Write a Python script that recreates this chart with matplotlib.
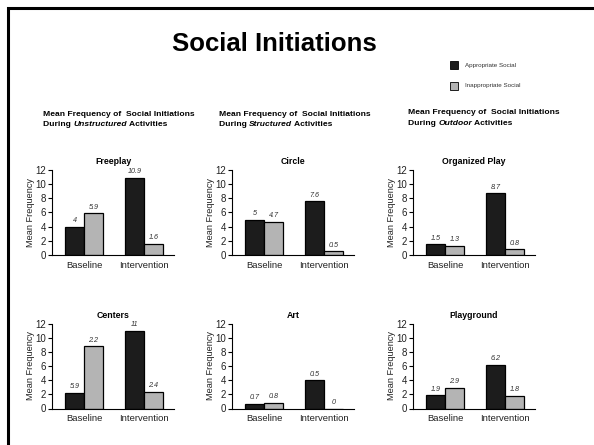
import matplotlib
matplotlib.use("Agg")
import matplotlib.pyplot as plt
from matplotlib.lines import Line2D
from matplotlib.patches import Rectangle

plt.rcParams["font.family"] = ["Liberation Sans", "DejaVu Sans"]

# data
phases = ["Baseline", "Intervention"]
panel_titles = ["Freeplay", "Circle", "Organized Play", "Centers", "Art", "Playground"]
# bar heights as drawn
appropriate = [[4, 10.9], [5, 7.6], [1.5, 8.7], [2.2, 11], [0.7, 4.0], [1.9, 6.2]]
inappropriate = [[5.9, 1.6], [4.7, 0.5], [1.3, 0.8], [8.8, 2.4], [0.8, 0], [2.9, 1.8]]
# value labels as printed
appropriate_lbl = [["4", "10.9"], ["5", "7.6"], ["1.5", "8.7"], ["5.9", "11"], ["0.7", "0.5"], ["1.9", "6.2"]]
inappropriate_lbl = [["5.9", "1.6"], ["4.7", "0.5"], ["1.3", "0.8"], ["2.2", "2.4"], ["0.8", "0"], ["2.9", "1.8"]]
activity_types = ["Unstructured", "Structured", "Outdoor"]
yticks = [0, 2, 4, 6, 8, 10, 12]

W, H = 594, 445
fig = plt.figure(figsize=(W / 100, H / 100), dpi=100)

dark = "#1c1c1c"
light = "#b4b4b4"

col_left = [52, 232, 413]
row_y0 = [255, 408.5]
ax_w = 122
ax_h = 85

for k in range(6):
    r, c = divmod(k, 3)
    left = col_left[c] / W
    bottom = 1 - row_y0[r] / H
    ax = fig.add_axes([left, bottom, ax_w / W, ax_h / H])
    x = [0, 1]
    bw = 0.317
    ax.bar([xi - bw / 2 for xi in x], appropriate[k], width=bw, color=dark,
           edgecolor="black", linewidth=0.9)
    ax.bar([xi + bw / 2 for xi in x], inappropriate[k], width=bw, color=light,
           edgecolor="black", linewidth=0.9)
    for i in range(2):
        ax.text(x[i] - bw / 2, appropriate[k][i] + 0.35, appropriate_lbl[k][i],
                ha="center", va="bottom", fontsize=5.2, style="italic", color="#333333")
        ax.text(x[i] + bw / 2, inappropriate[k][i] + 0.35, inappropriate_lbl[k][i],
                ha="center", va="bottom", fontsize=5.2, style="italic", color="#333333")
    ax.set_xlim(-0.533, 1.5)
    ax.set_ylim(0, 12)
    ax.set_yticks(yticks)
    ax.set_xticks(x)
    ax.set_xticklabels(phases, fontsize=6.8, color="#222222")
    ax.tick_params(axis="x", length=0, pad=4)
    ax.tick_params(axis="y", length=3, width=0.8, pad=1.5, labelsize=7, labelcolor="#222222")
    for s in ["top", "right"]:
        ax.spines[s].set_visible(False)
    ax.spines["left"].set_linewidth(0.8)
    ax.spines["bottom"].set_linewidth(0.8)
    ax.set_ylabel("Mean Frequency", fontsize=6.6, labelpad=0, color="#222222")
    ax.set_title(panel_titles[k], fontsize=6.3, fontweight="bold", pad=4)

# main title
fig.text(274 / W, 1 - 44 / H, "Social Initiations", ha="center", va="center",
         fontsize=18.5, fontweight="bold")

# legend
for j, (lab, col) in enumerate([("Appropriate Social", dark), ("Inappropriate Social", light)]):
    yc = [65, 86][j]
    fig.patches.append(Rectangle((450 / W, 1 - (yc + 4) / H), 8 / W, 8 / H,
                                 transform=fig.transFigure, facecolor=col,
                                 edgecolor="black", linewidth=0.6))
    fig.text(465 / W, 1 - yc / H, lab, ha="left", va="center", fontsize=4.5, color="#333333")

# subtitles with italic word
fig.canvas.draw()
renderer = fig.canvas.get_renderer()
sub_pos = [(43, 114), (219, 114), (408, 113)]
for c in range(3):
    x0, y0 = sub_pos[c]
    fig.text(x0 / W, 1 - y0 / H, "Mean Frequency of  Social Initiations",
             ha="left", va="center", fontsize=6.1, fontweight="bold")
    xx = x0 / W
    for piece, st in [("During ", "normal"), (activity_types[c], "italic"), (" Activities", "normal")]:
        t = fig.text(xx, 1 - (y0 + 10.5) / H, piece, ha="left", va="center",
                     fontsize=6.1, fontweight="bold", style=st)
        bb = t.get_window_extent(renderer)
        xx = bb.x1 / W

# slide frame
fig.add_artist(Line2D([8 / W, 8 / W, 1], [0, 1 - 8 / H, 1 - 8 / H],
                      transform=fig.transFigure, color="black", linewidth=2.2,
                      solid_joinstyle="miter"))

fig.savefig("out.png", dpi=100)
